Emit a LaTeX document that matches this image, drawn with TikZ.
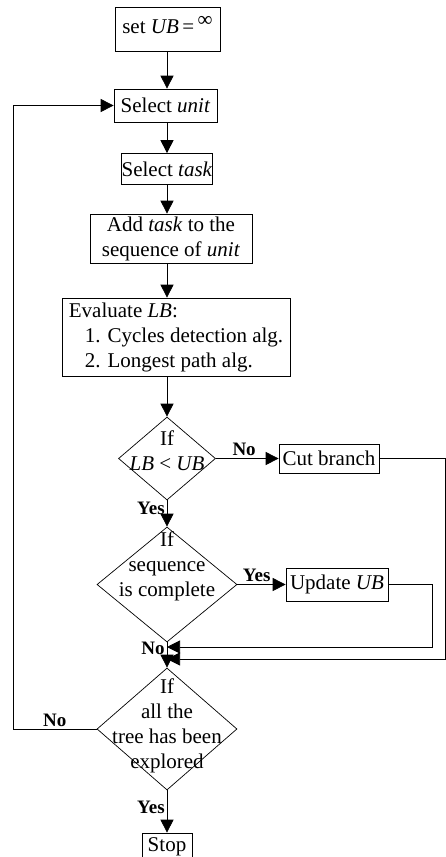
\documentclass[tikz,border=0pt]{standalone}
\usepackage{fontspec}
\setmainfont{Liberation Serif}
\usepackage{tikz}
\usetikzlibrary{arrows.meta,shapes.geometric}

\begin{document}
\begin{tikzpicture}[x=1pt,y=-1pt,
   font=\fontsize{21}{25}\selectfont,
   box/.style={draw,line width=0.7pt,inner sep=0pt,align=center},
   test/.style={draw,diamond,line width=0.7pt,inner sep=0pt},
   to/.style={-{Triangle[length=13pt,width=13pt]},line width=0.7pt},
   lab/.style={font=\bfseries\fontsize{19}{21}\selectfont,inner sep=2pt}]
\useasboundingbox (0,0) rectangle (446,857);
\coordinate (spine) at (167,0);
\node[box,anchor=north,minimum width=105pt,text height=26pt,text depth=18pt] (setUB) at (167.5,7) {set \textit{UB}\,=\,\raisebox{7pt}{∞}};
\node[box,minimum width=103pt,minimum height=33pt] (selUnit) at (165.5,105.5) {Select \textit{unit}};
\node[box,minimum width=90pt,minimum height=31pt] (selTask) at (167,169) {Select \textit{task}};
\node[box,minimum width=162pt,minimum height=49pt] (addTask) at (171,238.5) {Add \textit{task} to the\\sequence of \textit{unit}};
\node[box,align=left,minimum width=228pt,minimum height=78pt] (evalLB) at (176,337) {Evaluate \textit{LB}:\\\hspace*{16pt}1. Cycles detection alg.\\\hspace*{16pt}2. Longest path alg.};
\node[test,minimum width=97pt,minimum height=83pt,label={[align=center,yshift=8pt]center:If\\\textit{LB} < \textit{UB}}] (ifLB) at (167,458.5) {};
\node[box,minimum width=100pt,minimum height=29pt] (cutBr) at (329,458.5) {Cut branch};
\node[test,minimum width=140pt,minimum height=115pt,label={[align=center,yshift=18pt]center:If\\sequence\\is complete}] (ifSeq) at (167,584.5) {};
\node[box,minimum width=102pt,minimum height=33pt] (updUB) at (337,584.5) {Update \textit{UB}};
\node[test,minimum width=140pt,minimum height=122pt,label={[align=center,yshift=3pt]center:If\\all the\\tree has been\\explored}] (ifAll) at (167,729) {};
\node[box,minimum width=50pt,minimum height=28pt] (stop) at (167,847) {Stop};
\coordinate (uturn) at (432,647);
\coordinate (j1) at (167,647);
\coordinate (cturn) at (445,659);
\coordinate (j2) at (167,659);
\coordinate (lturn) at (13,105.5);
\draw[to] (setUB.south -| spine) -- (selUnit.north -| spine);
\draw[to] (selUnit.south -| spine) -- (selTask.north -| spine);
\draw[to] (selTask.south -| spine) -- (addTask.north -| spine);
\draw[to] (addTask.south -| spine) -- (evalLB.north -| spine);
\draw[to] (evalLB.south -| spine) -- (ifLB.north);
\draw[to] (ifLB.east) -- node[lab,above,pos=0.45] {No} (cutBr.west);
\draw[to] (ifLB.south) -- node[lab,left,pos=0.3] {Yes} (ifSeq.north);
\draw[to] (ifSeq.east) -- node[lab,above,pos=0.4] {Yes} (updUB.west);
\draw[to] (ifSeq.south) -- node[lab,left,pos=0.22] {No} (ifAll.north);
\draw[to] (updUB.east) -| (uturn) -- (j1);
\draw[to] (cutBr.east) -| (cturn) -- (j2);
\draw[to] (ifAll.west) -| node[lab,above,pos=0.25] {No} (lturn) -- (selUnit.west);
\draw[to] (ifAll.south) -- node[lab,left,pos=0.4] {Yes} (stop.north);
\end{tikzpicture}
\end{document}
